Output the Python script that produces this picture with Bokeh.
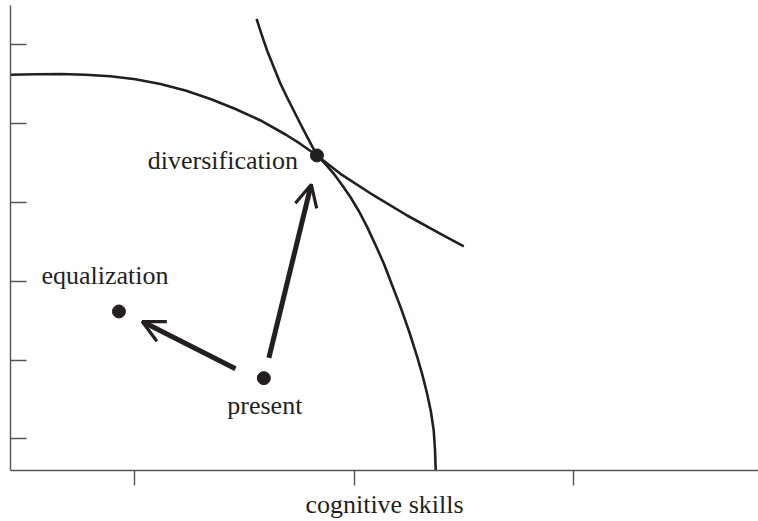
from bokeh.plotting import figure
from bokeh.models import ColumnDataSource, Arrow, OpenHead, FixedTicker, Range1d, CustomJSTickFormatter
from bokeh.core.properties import value
from bokeh.embed import file_html
from bokeh.resources import INLINE

# ---- data ----
ppf_x = [0.433, 0.547, 0.661, 0.774, 0.888, 1.002, 1.116, 1.230, 1.344, 1.458,
         1.572, 1.686, 1.754, 1.829, 1.869, 1.906, 1.945, 1.982, 2.021, 2.058,
         2.097, 2.134, 2.172, 2.210, 2.249, 2.286, 2.310, 2.331, 2.348, 2.361,
         2.367, 2.370]
ppf_y = [5.622, 5.628, 5.631, 5.623, 5.603, 5.565, 5.505, 5.423, 5.315, 5.188,
         5.042, 4.864, 4.744, 4.598, 4.484, 4.365, 4.217, 4.068, 3.887, 3.688,
         3.456, 3.223, 2.948, 2.673, 2.364, 2.038, 1.806, 1.574, 1.349, 1.108,
         0.854, 0.600]

indiff_x = [1.554, 1.576, 1.602, 1.631, 1.663, 1.692, 1.723, 1.754, 1.785, 1.829,
            1.936, 2.088, 2.240, 2.392, 2.498]
indiff_y = [6.332, 6.140, 5.930, 5.727, 5.508, 5.340, 5.169, 4.997, 4.830, 4.598,
            4.365, 4.090, 3.836, 3.604, 3.445]

point_names = ["equalization", "present", "diversification"]
point_x = [0.927, 1.587, 1.829]
point_y = [2.618, 1.772, 4.598]

arrow_x0 = [1.458, 1.610]
arrow_y0 = [1.891, 2.030]
arrow_x1 = [1.033, 1.803]
arrow_y1 = [2.491, 4.230]

x_ticks = [1, 2, 3]
y_ticks = [1, 2, 3, 4, 5, 6]
x_label = "cognitive skills"

INK = "#231f20"
AXIS = "#555555"
FONT = "Liberation Serif"

p = figure(width=758, height=521, output_backend="svg", toolbar_location=None,
           x_range=Range1d(0.433, 3.8405), y_range=Range1d(0.600, 6.501),
           min_border_left=10, min_border_right=0, min_border_top=5, min_border_bottom=0)
p.outline_line_color = None
p.xgrid.visible = False
p.ygrid.visible = False
p.background_fill_color = "white"

# axes (ticks without numbers)
blank = CustomJSTickFormatter(code="return ''")
p.xaxis.ticker = FixedTicker(ticks=x_ticks)
p.yaxis.ticker = FixedTicker(ticks=y_ticks)
for ax in (p.xaxis, p.yaxis):
    ax.formatter = blank
    ax.axis_line_color = AXIS
    ax.axis_line_width = 1.4
    ax.major_tick_line_color = AXIS
    ax.major_tick_line_width = 1.4
    ax.minor_tick_line_color = None
    ax.major_label_text_font_size = "1px"
    ax.major_label_standoff = 0
p.xaxis.major_tick_in = 0
p.xaxis.major_tick_out = 15
p.yaxis.major_tick_in = 16
p.yaxis.major_tick_out = 0
p.xaxis.axis_label = x_label
p.xaxis.axis_label_text_font = FONT
p.xaxis.axis_label_text_font_size = "26px"
p.xaxis.axis_label_text_font_style = "normal"
p.xaxis.axis_label_text_color = INK
p.xaxis.axis_label_standoff = 4

# curves
p.line(ppf_x, ppf_y, line_color=INK, line_width=2.6, line_join="round")
p.line(indiff_x, indiff_y, line_color=INK, line_width=2.6, line_join="round")

# arrows
asrc = ColumnDataSource(dict(x0=arrow_x0, y0=arrow_y0, x1=arrow_x1, y1=arrow_y1))
p.add_layout(Arrow(source=asrc, x_start="x0", y_start="y0", x_end="x1", y_end="y1",
                   line_color=INK, line_width=5,
                   end=OpenHead(size=22, line_color=INK, line_width=3.2)))

# points and their labels
psrc = ColumnDataSource(dict(x=point_x, y=point_y, name=point_names,
                             xo=[-14, 1, -19], yo=[-36, 27, 5],
                             align=["center", "center", "right"]))
p.scatter("x", "y", source=psrc, size=13, fill_color=INK, line_color=INK)
p.text("x", "y", text="name", source=psrc, x_offset="xo", y_offset="yo",
       text_align="align", text_baseline="alphabetic",
       text_font=value(FONT), text_font_size="26px", text_color=INK)

open("out.html", "w").write(file_html(p, INLINE))
